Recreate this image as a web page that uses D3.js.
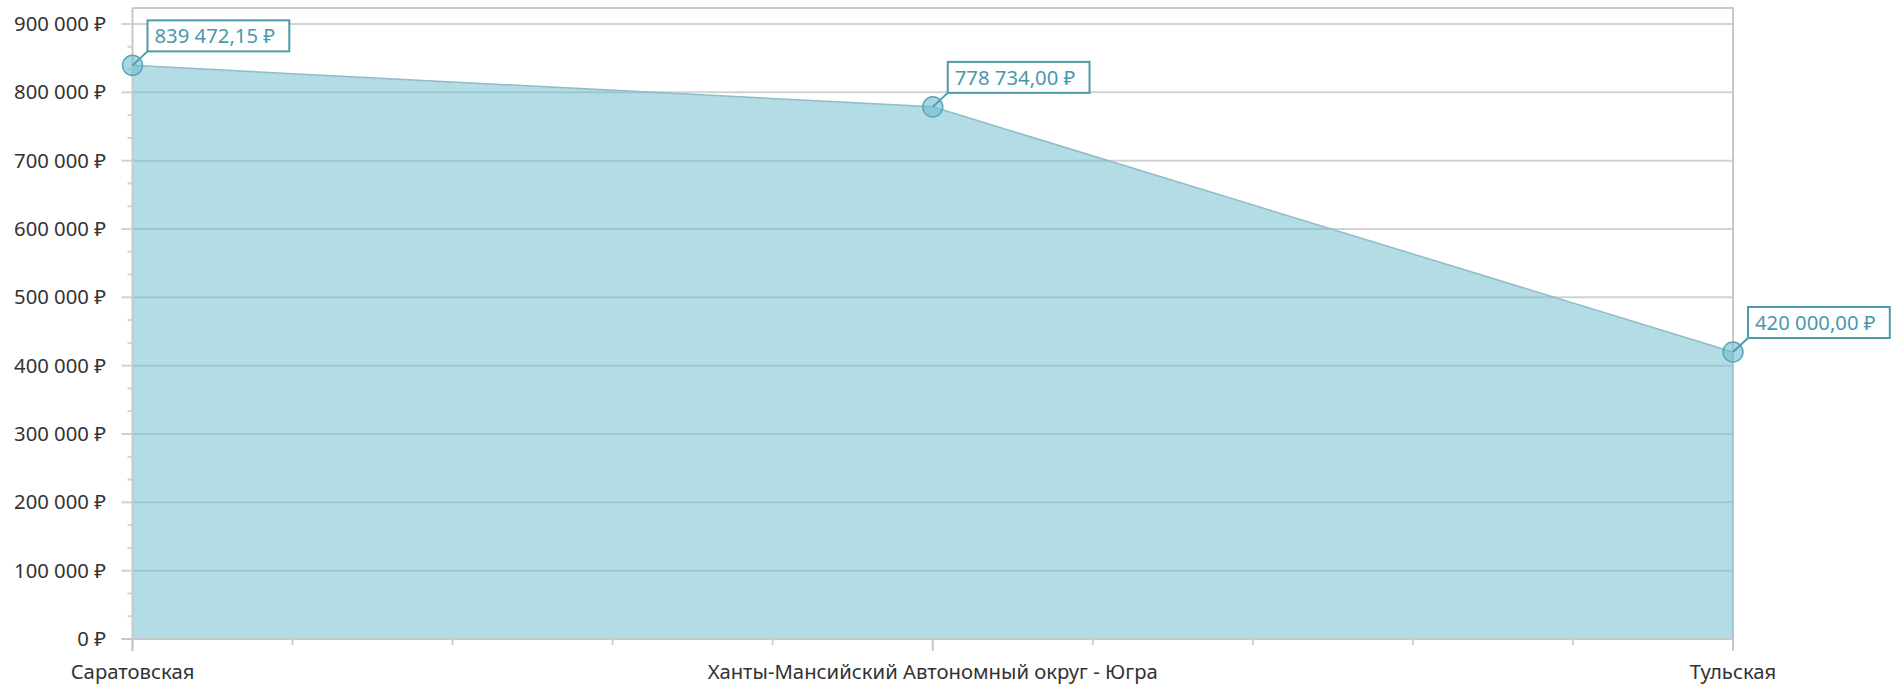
<!DOCTYPE html>
<html><head><meta charset="utf-8">
<script src="https://cdn.jsdelivr.net/npm/d3@7"></script>
<style>
html,body{margin:0;padding:0;background:#fff;}
svg text{font-family:"Noto Sans",sans-serif;}
</style></head>
<body>
<svg id="chart" width="1900" height="687"></svg>
<script>
const categories = ["Саратовская", "Ханты-Мансийский Автономный округ - Югра", "Тульская"];
const values = [839472.15, 778734.00, 420000.00];
const yTicks = [0, 100000, 200000, 300000, 400000, 500000, 600000, 700000, 800000, 900000];
const yMax = 923419;

(function(){
const svg = d3.select("#chart");
const pLeft = 132.5, pRight = 1733, pTop = 8, pBottom = 639;
const fontSize = 20.3;

const x = d3.scalePoint().domain(categories).range([pLeft, pRight]).padding(0);
const y = d3.scaleLinear().domain([0, yMax]).range([pBottom, pTop]);

const fmtNum = v => d3.format(",")(Math.round(v)).replace(/,/g, " ") + " ₽";
const fmtVal = v => {
  const parts = v.toFixed(2).split(".");
  return parts[0].replace(/\B(?=(\d{3})+(?!\d))/g, " ") + "," + parts[1] + " ₽";
};

// gridlines
svg.append("g").selectAll("line").data(yTicks.filter(d => d > 0)).join("line")
  .attr("x1", pLeft).attr("x2", pRight)
  .attr("y1", d => y(d)).attr("y2", d => y(d))
  .attr("stroke", "#d2d2d2").attr("stroke-width", 2);

// plot frame (top & right)
svg.append("line").attr("x1", pLeft).attr("x2", pRight + 1).attr("y1", pTop).attr("y2", pTop)
  .attr("stroke", "#c8c8c8").attr("stroke-width", 2);
svg.append("line").attr("x1", pRight).attr("x2", pRight).attr("y1", pTop).attr("y2", pBottom)
  .attr("stroke", "#c8c8c8").attr("stroke-width", 2);

// area
const data = categories.map((c, i) => ({c, v: values[i]}));
const area = d3.area().x(d => x(d.c)).y0(y(0)).y1(d => y(d.v));
svg.append("path").datum(data).attr("d", area)
  .attr("fill", "rgb(111,188,205)").attr("fill-opacity", 0.52);
const line = d3.line().x(d => x(d.c)).y(d => y(d.v));
svg.append("path").datum(data).attr("d", line)
  .attr("fill", "none").attr("stroke", "#8fbcc8").attr("stroke-width", 1.5);

// Y axis
const yAxisG = svg.append("g");
yAxisG.append("line").attr("x1", pLeft).attr("x2", pLeft).attr("y1", pTop).attr("y2", pBottom + 12)
  .attr("stroke", "#c8c8c8").attr("stroke-width", 2);
const minorY = [];
for (let i = 0; i < yTicks.length - 1; i++) {
  const a = yTicks[i], b = yTicks[i + 1];
  minorY.push(a + (b - a) / 3, a + 2 * (b - a) / 3);
}
minorY.push(900000 + 100000 / 3);
yAxisG.selectAll(".mn").data(minorY.filter(d => d < yMax)).join("line")
  .attr("x1", pLeft - 5).attr("x2", pLeft).attr("y1", d => y(d)).attr("y2", d => y(d))
  .attr("stroke", "#d2d2d2").attr("stroke-width", 2);
yAxisG.selectAll(".mj").data(yTicks).join("line")
  .attr("x1", pLeft - 11).attr("x2", pLeft).attr("y1", d => y(d)).attr("y2", d => y(d))
  .attr("stroke", "#d2d2d2").attr("stroke-width", 2);
yAxisG.selectAll("text").data(yTicks).join("text")
  .attr("x", 106).attr("y", d => y(d)).attr("dy", "0.35em")
  .attr("text-anchor", "end").attr("font-size", fontSize).attr("fill", "#333")
  .text(d => fmtNum(d));

// X axis
const xAxisG = svg.append("g");
xAxisG.append("line").attr("x1", pLeft - 11).attr("x2", pRight + 1).attr("y1", pBottom).attr("y2", pBottom)
  .attr("stroke", "#c8c8c8").attr("stroke-width", 2);
const minorX = d3.range(1, 10).filter(i => i !== 5).map(i => pLeft + (pRight - pLeft) * i / 10);
xAxisG.selectAll(".mn").data(minorX).join("line")
  .attr("x1", d => d).attr("x2", d => d).attr("y1", pBottom).attr("y2", pBottom + 6)
  .attr("stroke", "#d2d2d2").attr("stroke-width", 2);
xAxisG.selectAll(".mj").data(categories).join("line")
  .attr("x1", d => x(d)).attr("x2", d => x(d)).attr("y1", pBottom).attr("y2", pBottom + 12)
  .attr("stroke", "#c8c8c8").attr("stroke-width", 2);
xAxisG.selectAll("text").data(categories).join("text")
  .attr("x", d => x(d)).attr("y", 679)
  .attr("text-anchor", "middle").attr("font-size", fontSize).attr("fill", "#333")
  .text(d => d);

// markers & labels
const teal = "#4e9bae";
const pts = svg.append("g").selectAll("g").data(data).join("g")
  .attr("transform", d => `translate(${x(d.c)},${y(d.v)})`);
pts.append("circle").attr("r", 10)
  .attr("fill", "rgb(111,188,205)").attr("fill-opacity", 0.6)
  .attr("stroke", "#5aa6b9").attr("stroke-width", 1.5);
pts.append("line").attr("x1", 0).attr("y1", 0).attr("x2", 15).attr("y2", -14)
  .attr("stroke", teal).attr("stroke-width", 2);
pts.each(function(d) {
  const g = d3.select(this);
  const t = g.append("text").attr("x", 22).attr("y", -22)
    .attr("font-size", fontSize).attr("fill", "#4a98ab").text(fmtVal(d.v));
  const bb = t.node().getBBox();
  g.insert("rect", "text").attr("x", 15).attr("y", -45).attr("width", bb.width + 21).attr("height", 31)
    .attr("fill", "#fff").attr("stroke", teal).attr("stroke-width", 2);
});
})();
</script>
</body></html>
